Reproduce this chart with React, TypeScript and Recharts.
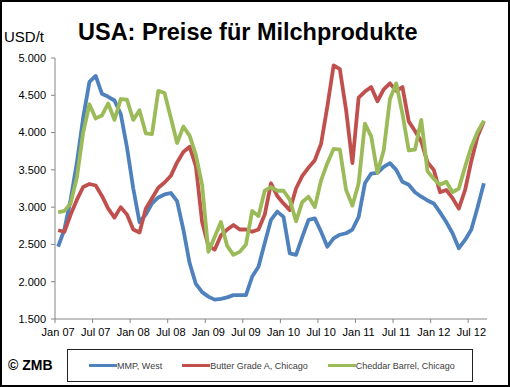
import { LineChart, Line, XAxis, YAxis } from 'recharts'

// Monatspreise USA, Jan 07 - Sep 12 (USD/t)
const monthNames = ['Jan', 'Feb', 'Mar', 'Apr', 'May', 'Jun', 'Jul', 'Aug', 'Sep', 'Oct', 'Nov', 'Dec']
const monthLabels = ['Jan', 'Feb', 'Mrz', 'Apr', 'Mai', 'Jun', 'Jul', 'Aug', 'Sep', 'Okt', 'Nov', 'Dez']
const years = ['07', '08', '09', '10', '11', '12']
const monthCount = 69

const mmpWest = [
  2470, 2700, 3100, 3600, 4200, 4680, 4760, 4520, 4480, 4430, 4250, 3800,
  3250, 2800, 2900, 3050, 3130, 3170, 3190, 3080, 2700, 2250, 1970, 1860,
  1800, 1760, 1770, 1790, 1820, 1820, 1820, 2070, 2200, 2520, 2830, 2940,
  2870, 2380, 2360, 2600, 2830, 2850, 2670, 2470, 2580, 2630, 2650, 2700,
  2870, 3320, 3450, 3460, 3540, 3590, 3500, 3340, 3300, 3200, 3140, 3090,
  3050, 2930, 2800, 2650, 2450, 2560, 2700, 3000, 3320,
]

const butterChicago = [
  2690, 2670, 2900, 3100, 3270, 3310, 3290, 3150, 2980, 2860, 3000, 2900,
  2700, 2660, 2980, 3120, 3260, 3330, 3420, 3600, 3740, 3810, 3550, 2800,
  2480, 2430, 2620, 2700, 2760, 2700, 2700, 2670, 2700, 2900, 3320, 3150,
  3050, 2960, 3250, 3420, 3530, 3630, 3850, 4350, 4900, 4850, 4300, 3590,
  4470, 4550, 4610, 4420, 4580, 4660, 4560, 4610, 4150, 4020, 3880, 3600,
  3500, 3200, 3230, 3120, 2980, 3230, 3620, 3950, 4150,
]

const cheddarChicago = [
  2930, 2950, 3050, 3400, 4000, 4380, 4190, 4230, 4390, 4170, 4450, 4440,
  4170, 4300, 3990, 3980, 4560, 4530, 4200, 3860, 4080, 3960, 3700, 3300,
  2400, 2600, 2800, 2480, 2360, 2400, 2500, 2950, 2880, 3220, 3270, 3220,
  3220, 3100, 2810, 3070, 3140, 3000, 3360, 3590, 3780, 3770, 3230, 3020,
  3320, 4120, 3950, 3460, 3760, 4450, 4660, 4250, 3760, 3770, 4170, 3480,
  3380, 3300, 3340, 3200, 3250, 3540, 3810, 4010, 4160,
]

const yTicks = [1500, 2000, 2500, 3000, 3500, 4000, 4500, 5000]

const series = [
  { key: 'mmp', name: 'MMP, West', color: '#4F81BD', values: mmpWest },
  { key: 'butter', name: 'Butter Grade A, Chicago', color: '#C0504D', values: butterChicago },
  { key: 'cheddar', name: 'Cheddar Barrel, Chicago', color: '#9BBB59', values: cheddarChicago },
]

const categories = years.flatMap((y) => monthNames.map((m) => `${m} ${y}`)).slice(0, monthCount)

const data = categories.map((month, i) => {
  const row: Record<string, string | number> = { month }
  series.forEach((s) => {
    row[s.key] = s.values[i]
  })
  return row
})

const W = 510
const H = 387
const margin = { top: 58, right: 23, bottom: 38, left: 0 }
const Y_AXIS_W = 55
const PLOT_W = W - margin.left - margin.right - Y_AXIS_W

const font = '"Liberation Sans", Arial, sans-serif'

const fmt = (v: number) => `${Math.floor(v / 1000)}.${String(v % 1000).padStart(3, '0')}`

// Excel-style: Teilstrich zwischen den Kategorien, Beschriftung mittig
const XTick = ({ x, y, payload }: any) => {
  const band = PLOT_W / monthCount
  const [m, yr] = String(payload.value).split(' ')
  const label = `${monthLabels[monthNames.indexOf(m)]} ${yr}`
  return (
    <g>
      <line x1={x - band / 2} x2={x - band / 2} y1={y} y2={y + 4} stroke="#868686" />
      <text x={x} y={y + 17} textAnchor="middle" fontSize={11} fill="#000" fontFamily={font}>
        {label}
      </text>
    </g>
  )
}

export default function App() {
  return (
    <div style={{ position: 'relative', width: W, height: H, background: '#fff', fontFamily: font }}>
      <style>{'body{margin:0}'}</style>
      <LineChart width={W} height={H} data={data} margin={margin}>
        <XAxis
          dataKey="month"
          scale="band"
          interval={5}
          height={30}
          tickLine={false}
          tickSize={0}
          tickMargin={0}
          axisLine={{ stroke: '#868686' }}
          tick={<XTick />}
        />
        <YAxis
          width={Y_AXIS_W}
          domain={[1500, 5000]}
          ticks={yTicks}
          allowDataOverflow
          tickFormatter={fmt}
          tickSize={4}
          tickMargin={5}
          axisLine={{ stroke: '#868686' }}
          tickLine={{ stroke: '#868686' }}
          tick={{ fontSize: 11, fill: '#000', fontFamily: font }}
        />
        {series.map((s) => (
          <Line
            key={s.key}
            dataKey={s.key}
            name={s.name}
            stroke={s.color}
            strokeWidth={3.8}
            strokeLinejoin="round"
            dot={false}
            type="linear"
            isAnimationActive={false}
          />
        ))}
      </LineChart>

      <div style={{ position: 'absolute', left: 4, top: 28, fontSize: 15, color: '#000' }}>USD/t</div>
      <div style={{ position: 'absolute', left: 78, top: 19, fontSize: 23.5, fontWeight: 700, color: '#000', whiteSpace: 'nowrap' }}>
        USA: Preise für Milchprodukte
      </div>
      <div style={{ position: 'absolute', left: 8, top: 357, fontSize: 14, fontWeight: 700, color: '#000' }}>© ZMB</div>

      <div
        style={{
          position: 'absolute',
          left: 67,
          top: 349,
          width: 406,
          height: 33,
          boxSizing: 'border-box',
          border: '1px solid #222',
          display: 'flex',
          alignItems: 'center',
          paddingLeft: 21,
          gap: 20,
          fontSize: 9,
          color: '#404040',
        }}
      >
        {series.map((s) => (
          <div key={s.key} style={{ display: 'flex', alignItems: 'center' }}>
            <span style={{ display: 'inline-block', width: 28, height: 3, background: s.color }} />
            <span>{s.name}</span>
          </div>
        ))}
      </div>

      <div
        style={{
          position: 'absolute',
          left: 0,
          top: 0,
          width: W,
          height: H,
          boxSizing: 'border-box',
          border: '2px solid #000',
          pointerEvents: 'none',
        }}
      />
    </div>
  )
}
